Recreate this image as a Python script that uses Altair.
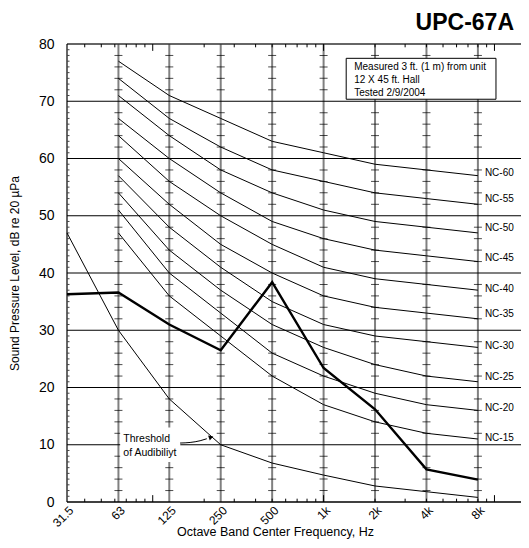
import altair as alt
import pandas as pd

# ---------------- data ----------------
freqs = [31.5, 63, 125, 250, 500, 1000, 2000, 4000, 8000]
freq_labels = ["31.5", "63", "125", "250", "500", "1k", "2k", "4k", "8k"]
nc_freqs = [63, 125, 250, 500, 1000, 2000, 4000, 8000]
nc_names = ["NC-15", "NC-20", "NC-25", "NC-30", "NC-35", "NC-40", "NC-45", "NC-50", "NC-55", "NC-60"]
nc_15 = [47, 36, 29, 22, 17, 14, 12, 11]
nc_20 = [51, 40, 33, 26, 22, 19, 17, 16]
nc_25 = [54, 44, 37, 31, 27, 24, 22, 21]
nc_30 = [57, 48, 41, 35, 31, 29, 28, 27]
nc_35 = [60, 52, 45, 40, 36, 34, 33, 32]
nc_40 = [64, 56, 50, 45, 41, 39, 38, 37]
nc_45 = [67, 60, 54, 49, 46, 44, 43, 42]
nc_50 = [71, 64, 58, 54, 51, 49, 48, 47]
nc_55 = [74, 67, 62, 58, 56, 54, 53, 52]
nc_60 = [77, 71, 67, 63, 61, 59, 58, 57]
nc_label_y = [11.2, 16.5, 21.8, 27.2, 32.8, 37.2, 42.7, 47.9, 53.0, 57.5]
threshold = [47, 30, 18, 10, 6.8, 4.7, 2.8, 1.8, 0.8]
measured = [36.3, 36.6, 31.0, 26.5, 38.4, 23.4, 16.2, 5.7, 3.9]

note_lines = ["Measured 3 ft. (1 m) from unit", "12 X 45 ft. Hall", "Tested 2/9/2004"]
note_y = [76.0, 73.7, 71.5]
note_x = [1511]
note_box_x = [1356, 10206]
note_box_y = [70.35, 77.5]

thr_lines = ["Threshold", "of Audibiliyt"]
thr_y = [11.0, 8.55]
thr_x = [67.3]
thr_box_x = [64.5, 145]
thr_box_y = [7.0, 13.0]
arrow_x = [144.6, 165.5, 189.4, 207.3]
arrow_y = [10.3, 10.4, 10.7, 11.05]
arrow_head = [219.6, 11.31]

grid_db = [10, 20, 30, 40, 50, 60, 70]
y_ticks = [0, 10, 20, 30, 40, 50, 60, 70, 80]
minor_f = [40, 50, 60, 70, 80, 90, 200, 300, 400, 500, 600, 700, 800, 900,
           2000, 3000, 4000, 5000, 6000, 7000, 8000, 9000]
major_f = [100, 1000, 10000]

FONT = "Liberation Sans"
XMAX = 14300
xscale = alt.Scale(type="log", domain=[31.5, XMAX], nice=False)
yscale = alt.Scale(domain=[0, 80], nice=False, zero=False)

label_expr = ""
for v, l in zip(freqs, freq_labels):
    label_expr += f"datum.value == {v} ? '{l}' : "
label_expr += "''"

def X(field, **kw):
    return alt.X(field, type="quantitative", scale=xscale, **kw)

def Y(field, **kw):
    return alt.Y(field, type="quantitative", scale=yscale, **kw)

# ---------------- tables ----------------
nc_all = [nc_15, nc_20, nc_25, nc_30, nc_35, nc_40, nc_45, nc_50, nc_55, nc_60]
nc_rows = []
for name, vals in zip(nc_names, nc_all):
    for f, v in zip(nc_freqs, vals):
        nc_rows.append({"f": f, "db": v, "curve": name})
nc_df = pd.DataFrame(nc_rows)
nc_lab_df = pd.DataFrame({"f": [nc_freqs[-1]] * len(nc_names), "db": nc_label_y, "name": nc_names})
thr_df = pd.DataFrame({"f": freqs, "db": threshold})
meas_df = pd.DataFrame({"f": freqs, "db": measured})

vgrid_df = pd.DataFrame({"f": freqs[1:]})
cross_rows = [{"f": f, "db": d} for f in freqs[1:] for d in range(2, 80, 2) if d % 10 != 0]
cross_df = pd.DataFrame(cross_rows)
hgrid_df = pd.DataFrame({"db": grid_db})

top_ticks = pd.DataFrame(
    [{"f": f, "y": 80, "y2": 79.42} for f in minor_f] + [{"f": f, "y": 80, "y2": 78.8} for f in major_f])
bot_ticks = pd.DataFrame(
    [{"f": f, "y": 0, "y2": 0.58} for f in minor_f] + [{"f": f, "y": 0, "y2": 1.2} for f in major_f])
left_ticks = pd.DataFrame([{"x": 31.5, "x2": 31.5 * 2 ** (2.5 / 51.4), "db": d}
                           for d in range(1, 80) if d % 10 != 0])

# ---------------- layers ----------------
base_axes = alt.Chart(nc_df).mark_line(color="black", strokeWidth=1).encode(
    x=X("f", axis=alt.Axis(values=freqs, labelExpr=label_expr, labelAngle=-45, labelFontSize=12,
                           labelAlign="right", labelBaseline="middle", labelPadding=6, labelOffset=4,
                           labelFlush=False, labelOverlap=False, labelColor="black",
                           ticks=False, domain=False, grid=False,
                           title="Octave Band Center Frequency, Hz", titleFontSize=12.5,
                           titleFontWeight="normal", titleColor="black", titleX=208, titleY=29,
                           titleBaseline="middle", titleAlign="center")),
    y=Y("db", axis=alt.Axis(values=y_ticks, labelFontSize=14, labelPadding=13, labelColor="black",
                            ticks=False, domain=False, grid=False,
                            title="Sound Pressure Level, dB re 20 µPa", titleFontSize=12,
                            titleFontWeight="normal", titleColor="black", titleX=-53, titleY=229,
                            titleBaseline="middle", titleAlign="center")),
    detail="curve:N",
)

vgrid = alt.Chart(vgrid_df).mark_rule(color="#808080", strokeWidth=2).encode(x=X("f"))
cross = alt.Chart(cross_df).mark_tick(orient="horizontal", color="black", size=8, thickness=1).encode(
    x=X("f"), y=Y("db"))
hgrid = alt.Chart(hgrid_df).mark_rule(color="black", strokeWidth=1.2).encode(y=Y("db"))
border_top = alt.Chart(pd.DataFrame({"db": [80]})).mark_rule(color="#333", strokeWidth=1.5).encode(y=Y("db"))
border_bot = alt.Chart(pd.DataFrame({"db": [0]})).mark_rule(color="black", strokeWidth=1.5).encode(y=Y("db"))
border_left = alt.Chart(pd.DataFrame({"f": [31.5]})).mark_rule(color="black", strokeWidth=1.2).encode(x=X("f"))
tticks = alt.Chart(top_ticks).mark_rule(color="black", strokeWidth=1).encode(x=X("f"), y=Y("y"), y2="y2")
bticks = alt.Chart(bot_ticks).mark_rule(color="black", strokeWidth=1).encode(x=X("f"), y=Y("y"), y2="y2")
lticks = alt.Chart(left_ticks).mark_rule(color="#444", strokeWidth=1).encode(x=X("x"), x2="x2", y=Y("db"))

thr_line = alt.Chart(thr_df).mark_line(color="black", strokeWidth=1).encode(x=X("f"), y=Y("db"))
meas_line = alt.Chart(meas_df).mark_line(color="black", strokeWidth=2.4).encode(x=X("f"), y=Y("db"))

nc_labels = alt.Chart(nc_lab_df).mark_text(align="left", baseline="middle", dx=7, fontSize=10,
                                           font=FONT, color="black").encode(
    x=X("f"), y=Y("db"), text="name:N")

note_box = alt.Chart(pd.DataFrame({"x": [note_box_x[0]], "x2": [note_box_x[1]],
                                   "y": [note_box_y[0]], "y2": [note_box_y[1]]})).mark_rect(
    fill="white", stroke="black", strokeWidth=1).encode(x=X("x"), x2="x2", y=Y("y"), y2="y2")
note_text = alt.Chart(pd.DataFrame({"f": note_x * 3, "db": note_y, "t": note_lines})).mark_text(
    align="left", baseline="middle", fontSize=10, font=FONT, color="black").encode(
    x=X("f"), y=Y("db"), text="t:N")

thr_box = alt.Chart(pd.DataFrame({"x": [thr_box_x[0]], "x2": [thr_box_x[1]],
                                  "y": [thr_box_y[0]], "y2": [thr_box_y[1]]})).mark_rect(
    fill="white").encode(x=X("x"), x2="x2", y=Y("y"), y2="y2")
thr_text = alt.Chart(pd.DataFrame({"f": thr_x * 2, "db": thr_y, "t": thr_lines})).mark_text(
    align="left", baseline="middle", fontSize=10.5, font=FONT, color="black").encode(
    x=X("f"), y=Y("db"), text="t:N")
arrow = alt.Chart(pd.DataFrame({"f": arrow_x, "db": arrow_y, "o": list(range(len(arrow_x)))})).mark_line(
    color="black", strokeWidth=1, interpolate="monotone").encode(x=X("f"), y=Y("db"), order="o:Q")
arrow_hd = alt.Chart(pd.DataFrame({"f": [arrow_head[0]], "db": [arrow_head[1]]})).mark_point(
    shape="triangle-up", filled=True, size=28, angle=71, color="black", opacity=1).encode(
    x=X("f"), y=Y("db"))

chart = alt.layer(
    vgrid, cross, hgrid, border_top, border_bot, border_left, tticks, bticks, lticks,
    base_axes, thr_line, meas_line, nc_labels, note_box, note_text, thr_box, thr_text, arrow, arrow_hd,
).properties(
    width=454, height=458,
    title=alt.TitleParams("UPC-67A", anchor="end", fontSize=23, fontWeight="bold", font=FONT,
                          color="black", dx=-7, offset=2, frame="group"),
    autosize=alt.AutoSizeParams(type="none"),
    padding={"left": 59, "top": 36, "right": 0, "bottom": 38},
).configure(font=FONT).configure_view(strokeWidth=0)

chart.save("out.html", embed_options={"renderer": "svg", "actions": False})
